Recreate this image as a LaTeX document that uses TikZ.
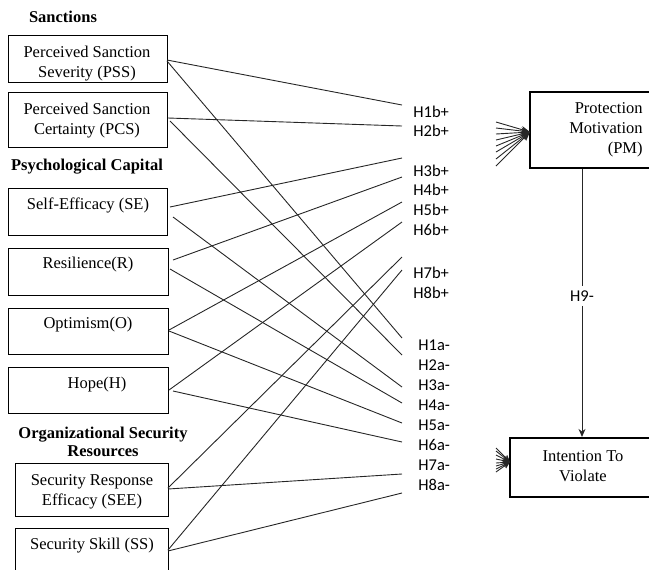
\documentclass[tikz,border=0pt]{standalone}
\usepackage{fontspec}
\setmainfont{Liberation Serif}
\newfontfamily\hypfont{Carlito}
\usetikzlibrary{arrows.meta,fit}

\tikzset{
    box/.style={draw,line width=0.5pt,inner sep=0pt},
    bigbox/.style={draw,line width=1.1pt,inner sep=0pt},
    txt/.style={align=center,inner sep=0pt,font=\fontsize{8.25}{10}\selectfont},
    grp/.style={align=center,inner sep=0pt,font=\fontsize{8.25}{9}\selectfont\bfseries},
    hyp/.style={anchor=west,inner sep=0pt,font=\fontsize{8.25}{10}\selectfont\hypfont},
    link/.style={line width=0.45pt,black!85},
    stub/.style={line width=0.45pt,black!85,-{Stealth[length=4.5pt,width=3.5pt]}},
}

\begin{document}
\begin{tikzpicture}[x=0.5pt,y=-0.5pt]
    \useasboundingbox (0,0) rectangle (649,569);
    % boxes
    \foreach \n/\a/\b in {pss/{8,35}/{167,82},pcs/{8,92}/{167,147},
        se/{8,188}/{167,235},r/{8,248}/{168,295},o/{8,308}/{168,354},
        h/{8,367}/{168,413},see/{15,463}/{168,516},ss/{15,528}/{168,590}}
    \node[box,fit={(\a) (\b)}] (\n) {};
    \node[bigbox,fit={(530,92) (690,168)}] (pm) {};
    \node[bigbox,fit={(510,438) (690,497)}] (iv) {};
    % group titles and box texts
    \node[grp] (sanc) at (63,17) {Sanctions};
    \node[grp] (psycap) at (87,167) {Psychological Capital};
    \node[grp] (orgsec) at (103,442) {Organizational Security\\Resources};
    \node[txt] (pss-t) at (87,64) {Perceived Sanction\\Severity (PSS)};
    \node[txt] (pcs-t) at (87,121) {Perceived Sanction\\Certainty (PCS)};
    \node[txt] (se-t) at (88,205) {Self-Efficacy (SE)};
    \node[txt] (r-t) at (88,265) {Resilience(R)};
    \node[txt] (o-t) at (88,325) {Optimism(O)};
    \node[txt] (h-t) at (97,385) {Hope(H)};
    \node[txt] (see-t) at (92,492) {Security Response\\Efficacy (SEE)};
    \node[txt] (ss-t) at (92,546) {Security Skill (SS)};
    \node[txt,align=right,anchor=east] (pm-t) at (643,130) {Protection\\Motivation\\(PM)};
    \node[txt] (iv-t) at (583,466) {Intention To\\Violate};
    % hypothesis labels
    \foreach \i/\y in {1/112,2/131,3/171,4/190,5/210,6/230,7/273,8/293}
    \node[hyp] (l\i b) at (413,\y) {H\i b+};
    \foreach \i/\y in {1/345,2/365,3/385,4/405,5/425,6/445,7/465,8/485}
    \node[hyp] (l\i a) at (418,\y) {H\i a-};
    % line ends
    \foreach \n/\p in {pss-b/{167,60},pss-a/{167,61},pcs-b/{168,118},pcs-a/{170,121},
        se-b/{170,207},se-a/{173,217},r-b/{173,260},r-a/{170,269},
        o-b/{169,330},o-a/{169,331},h-b/{169,390},h-a/{173,391},
        see-b/{168,488},see-a/{168,489},ss-b/{168,550},ss-a/{168,551}}
    \coordinate (\n) at (\p);
    \foreach \i/\y in {1/105,2/126,3/158,4/177,5/202,6/222,7/257,8/270}
    \coordinate (e\i b) at (402,\y);
    \foreach \i/\y in {1/338,2/355,3/387,4/403,5/423,6/442,7/474,8/493}
    \coordinate (e\i a) at (402,\y);
    \foreach \n/\i in {pss/1,pcs/2,se/3,r/4,o/5,h/6,see/7,ss/8}{
        \draw[link] (\n-b) -- (e\i b);
        \draw[link] (\n-a) -- (e\i a);}
    % arrows into PM and IV
    \coordinate (pm-in) at (530,132);
    \coordinate (iv-in) at (510,462);
    \foreach \y [count=\k] in {122,128,134,140,146,152,159,166}{
        \coordinate (pt\k) at (496,\y);
        \draw[stub] (pt\k) -- (pm-in);}
    \foreach \y [count=\k] in {448,451,455,459,463,466,469,472}{
        \coordinate (it\k) at (496,\y);
        \draw[stub,-{Stealth[length=3.5pt,width=3pt]}] (it\k) -- (iv-in);}
    % H9
    \node[hyp,anchor=center,fill=white,inner sep=2pt] (h9) at (582,296) {H9-};
    \draw[link] (h9 |- pm.south) -- (h9);
    \draw[link,-{Stealth[length=4pt,width=3.5pt]}] (h9) -- (h9 |- iv.north);
\end{tikzpicture}
\end{document}
